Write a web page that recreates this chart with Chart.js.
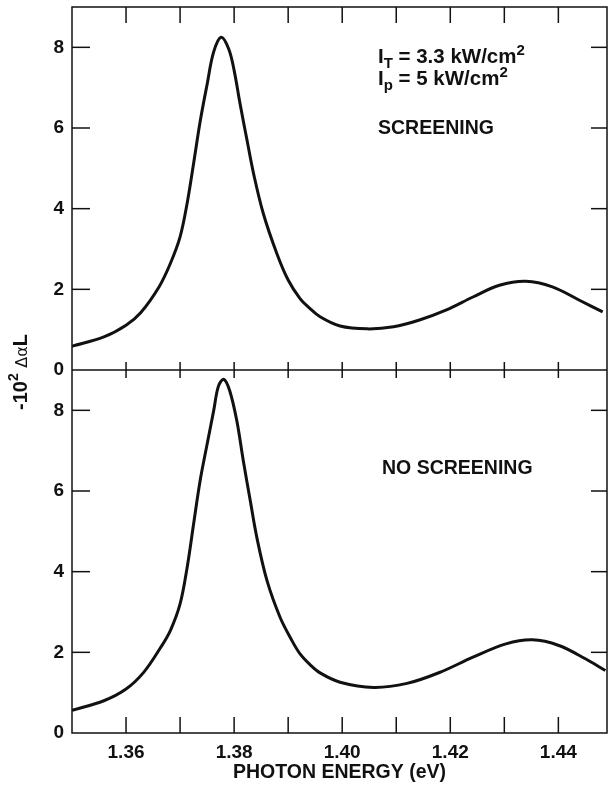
<!DOCTYPE html>
<html>
<head>
<meta charset="utf-8">
<script src="https://cdn.jsdelivr.net/npm/chart.js@4/dist/chart.umd.min.js"></script>
<style>
  html, body { margin: 0; padding: 0; background: #fff; }
  #wrap { width: 608px; height: 786px; }
</style>
</head>
<body>
<div id="wrap"><canvas id="myChart" width="608" height="786"></canvas></div>
<script>
// photon energy (eV) and -10^2 dαL
var topX = [1.350, 1.3559, 1.360, 1.3627, 1.3661, 1.3682, 1.370, 1.3713, 1.3725, 1.3737, 1.375, 1.3762, 1.3776, 1.379, 1.380, 1.3811, 1.3824, 1.3836, 1.3854, 1.3879, 1.390, 1.3922, 1.394, 1.3959, 1.3996, 1.4046, 1.4095, 1.4143, 1.4193, 1.4242, 1.4291, 1.434, 1.4389, 1.4439, 1.4482];
var topY = [0.59, 0.82, 1.11, 1.42, 2.06, 2.64, 3.30, 4.13, 5.12, 6.15, 7.08, 7.88, 8.25, 7.96, 7.43, 6.60, 5.69, 4.87, 3.88, 2.89, 2.23, 1.77, 1.53, 1.32, 1.09, 1.02, 1.07, 1.24, 1.49, 1.81, 2.10, 2.20, 2.06, 1.73, 1.44];

var botX = [1.350, 1.3559, 1.360, 1.3633, 1.3664, 1.3682, 1.370, 1.3713, 1.3725, 1.3737, 1.375, 1.3762, 1.3771, 1.3781, 1.3792, 1.3805, 1.3817, 1.383, 1.3842, 1.3861, 1.3885, 1.3907, 1.3922, 1.394, 1.3959, 1.3996, 1.4058, 1.412, 1.418, 1.4242, 1.4303, 1.4352, 1.4401, 1.445, 1.4487];
var botY = [0.56, 0.80, 1.09, 1.51, 2.12, 2.54, 3.20, 4.10, 5.18, 6.25, 7.16, 7.98, 8.60, 8.77, 8.48, 7.74, 6.75, 5.75, 4.85, 3.77, 2.87, 2.29, 1.96, 1.70, 1.49, 1.26, 1.13, 1.23, 1.50, 1.88, 2.21, 2.31, 2.17, 1.84, 1.55];

var xTicks = [1.36, 1.37, 1.38, 1.39, 1.40, 1.41, 1.42, 1.43, 1.44];
var xTickLabels = ['1.36', '1.38', '1.40', '1.42', '1.44'];
var yTopLabels = [0, 2, 4, 6, 8];
var yBotLabels = [0, 2, 4, 6, 8];
var yTickMarks = [2, 4, 6, 8];

var FONT = '"Liberation Sans", Arial, Helvetica, sans-serif';

function pairs(xs, ys) {
   return xs.map(function(x, i) { return {x: x, y: ys[i]}; });
}

function noPad(s) {
   s.paddingTop = 0; s.paddingBottom = 0; s.paddingLeft = 0; s.paddingRight = 0;
}

var framePlugin = {
   id: 'frame',
   afterDatasetsDraw: function(chart) {
      var ctx = chart.ctx, a = chart.chartArea;
      var sx = chart.scales.x, sT = chart.scales.yTop, sB = chart.scales.yBot;
      var mid = sB.top;
      function line(x1, y1, x2, y2) {
         ctx.beginPath(); ctx.moveTo(x1, y1); ctx.lineTo(x2, y2); ctx.stroke();
      }
      ctx.save();
      ctx.strokeStyle = '#111';
      ctx.lineWidth = 1.5;
      ctx.strokeRect(a.left, a.top, a.right - a.left, a.bottom - a.top);
      line(a.left, mid, a.right, mid);
      xTicks.forEach(function(v) {
         var px = sx.getPixelForValue(v);
         line(px, a.top, px, a.top + 16);
         line(px, mid - 8, px, mid + 8);
         line(px, a.bottom - 16, px, a.bottom);
      });
      [sT, sB].forEach(function(s) {
         yTickMarks.forEach(function(v) {
            var py = s.getPixelForValue(v);
            line(a.left, py, a.left + 18, py);
            line(a.right - 16, py, a.right, py);
         });
      });

      // annotations
      ctx.fillStyle = '#111';
      ctx.textBaseline = 'alphabetic';
      ctx.textAlign = 'left';
      function run(parts, x, y) {
         parts.forEach(function(p) {
            ctx.font = p[1];
            ctx.fillText(p[0], x, y + (p[2] || 0));
            x += ctx.measureText(p[0]).width;
         });
      }
      var big = 'bold 20.5px ' + FONT, small = 'bold 15px ' + FONT;
      run([['I', big], ['T', small, 5], [' = 3.3 kW/cm', big], ['2', small, -8]], 378, 63);
      run([['I', big], ['p', small, 5], [' = 5 kW/cm', big], ['2', small, -8]], 378, 85);
      ctx.font = 'bold 19.5px ' + FONT;
      ctx.fillText('SCREENING', 378, 134);
      ctx.fillText('NO SCREENING', 382, 474);

      // y axis title, rotated
      ctx.translate(20, 372);
      ctx.rotate(-Math.PI / 2);
      var tparts = [['-10', 'bold 20px ' + FONT, 0], ['2', 'bold 14px ' + FONT, -9], [' ', 'bold 20px ' + FONT, 0],
                    ['\u0394\u03b1', '16px "DejaVu Sans", sans-serif', 0], ['L', 'bold 20px ' + FONT, 0]];
      var w = 0;
      tparts.forEach(function(p) { ctx.font = p[1]; w += ctx.measureText(p[0]).width; });
      run(tparts, -w / 2, 7);
      ctx.restore();
   }
};

var tickFont = { family: FONT, size: 19, weight: 'bold' };

var ctx = document.getElementById('myChart').getContext('2d');
var chart = new Chart(ctx, {
   type: 'line',
   data: {
      datasets: [{
         data: pairs(topX, topY),
         yAxisID: 'yTop',
         borderColor: '#111',
         borderWidth: 3,
         pointRadius: 0,
         tension: 0.35
      }, {
         data: pairs(botX, botY),
         yAxisID: 'yBot',
         borderColor: '#111',
         borderWidth: 3,
         pointRadius: 0,
         tension: 0.35
      }]
   },
   plugins: [framePlugin],
   options: {
      responsive: false,
      animation: false,
      layout: { padding: { top: 7, right: 1, left: 0, bottom: 0 } },
      plugins: { legend: { display: false }, tooltip: { enabled: false } },
      scales: {
         x: {
            type: 'linear',
            position: 'bottom',
            min: 1.35,
            max: 1.449,
            grid: { display: false, drawTicks: false },
            border: { display: false },
            afterBuildTicks: function(s) { s.ticks = xTicks.map(function(v) { return {value: v}; }); },
            afterFit: function(s) { s.height = 53; noPad(s); },
            ticks: {
               autoSkip: false,
               maxRotation: 0,
               padding: 8,
               color: '#111',
               font: tickFont,
               callback: function(v) {
                  var t = Number(v).toFixed(2);
                  return xTickLabels.indexOf(t) >= 0 ? t : '';
               }
            },
            title: {
               display: true,
               text: 'PHOTON ENERGY (eV)',
               color: '#111',
               padding: { top: 0, bottom: 2 },
               font: { family: FONT, size: 19.5, weight: 'bold' }
            }
         },
         yBot: {
            type: 'linear',
            position: 'left',
            stack: 'panels',
            stackWeight: 1,
            min: 0,
            max: 9,
            grid: { display: false, drawTicks: false },
            border: { display: false },
            afterBuildTicks: function(s) { s.ticks = yBotLabels.map(function(v) { return {value: v}; }); },
            afterFit: function(s) { s.width = 72; noPad(s); },
            ticks: { padding: 8, color: '#111', font: tickFont }
         },
         yTop: {
            type: 'linear',
            position: 'left',
            stack: 'panels',
            stackWeight: 1,
            min: 0,
            max: 9,
            grid: { display: false, drawTicks: false },
            border: { display: false },
            afterBuildTicks: function(s) { s.ticks = yTopLabels.map(function(v) { return {value: v}; }); },
            afterFit: function(s) { s.width = 72; noPad(s); },
            ticks: { padding: 8, color: '#111', font: tickFont }
         }
      }
   }
});
</script>
</body>
</html>
